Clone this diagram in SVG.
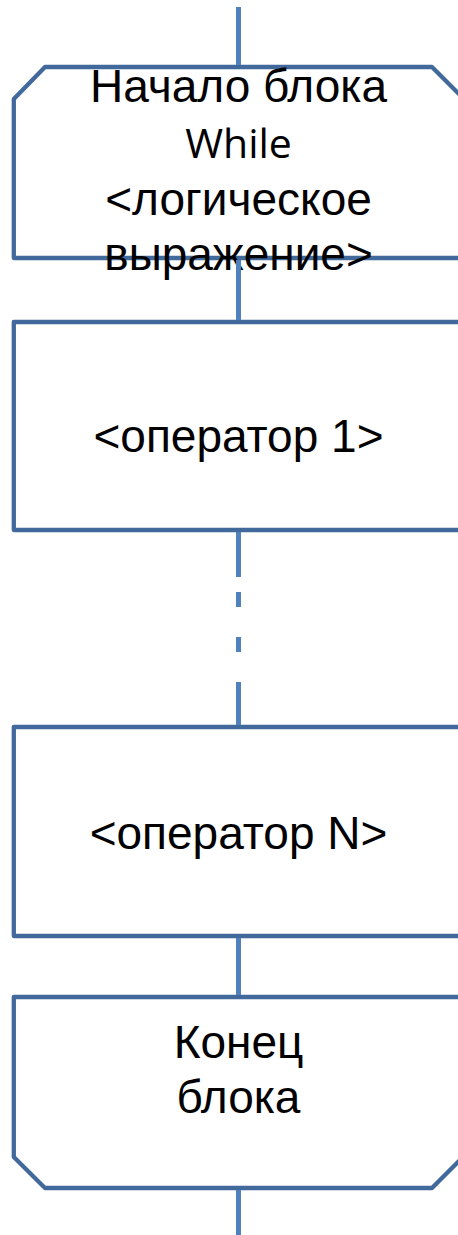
<svg xmlns="http://www.w3.org/2000/svg" width="458" height="1235" viewBox="0 0 458 1235">
<style>
.box{fill:#ffffff;stroke:#41699B;stroke-width:4.3;stroke-linejoin:round}
.con{stroke:#4F81BD;stroke-width:5;fill:none}
.t{font-family:"Liberation Sans",Arial,sans-serif;font-size:46px;fill:#000;text-anchor:middle}
.c{font-family:"Open Sans","Noto Sans",sans-serif;font-size:41px;fill:#000;text-anchor:middle}
</style>
<rect width="458" height="1235" fill="#ffffff"/>
<g id="node-start">
<path class="box" d="M45,67 L432,67 L464,99 L464,258 L13.8,258 L13.8,99 Z"/>
<text class="t" x="238.5" y="102">Начало блока</text>
<text class="c" x="238.5" y="158">While</text>
<text class="t" x="238.5" y="215">&lt;логическое</text>
<text class="t" x="238.5" y="270">выражение&gt;</text>
</g>
<g id="node-op1">
<rect class="box" x="13.8" y="322" width="450" height="208"/>
<text class="t" x="238.5" y="452">&lt;оператор 1&gt;</text>
</g>
<g id="node-opN">
<rect class="box" x="13.8" y="727" width="450" height="209"/>
<text class="t" x="238.5" y="849">&lt;оператор N&gt;</text>
</g>
<g id="node-end">
<path class="box" d="M13.8,997 L464,997 L464,1156 L432,1188 L45,1188 L13.8,1157 Z"/>
<text class="t" x="238.5" y="1058">Конец</text>
<text class="t" x="238.5" y="1113">блока</text>
</g>
<g id="connectors">
<line class="con" x1="238.5" y1="7" x2="238.5" y2="65"/>
<line class="con" x1="238.5" y1="260" x2="238.5" y2="320"/>
<line class="con" x1="238.5" y1="532" x2="238.5" y2="577"/>
<line class="con" x1="238.5" y1="592" x2="238.5" y2="607"/>
<line class="con" x1="238.5" y1="637" x2="238.5" y2="652"/>
<line class="con" x1="238.5" y1="682" x2="238.5" y2="725"/>
<line class="con" x1="238.5" y1="938" x2="238.5" y2="995"/>
<line class="con" x1="238.5" y1="1190" x2="238.5" y2="1235"/>
</g>
</svg>
